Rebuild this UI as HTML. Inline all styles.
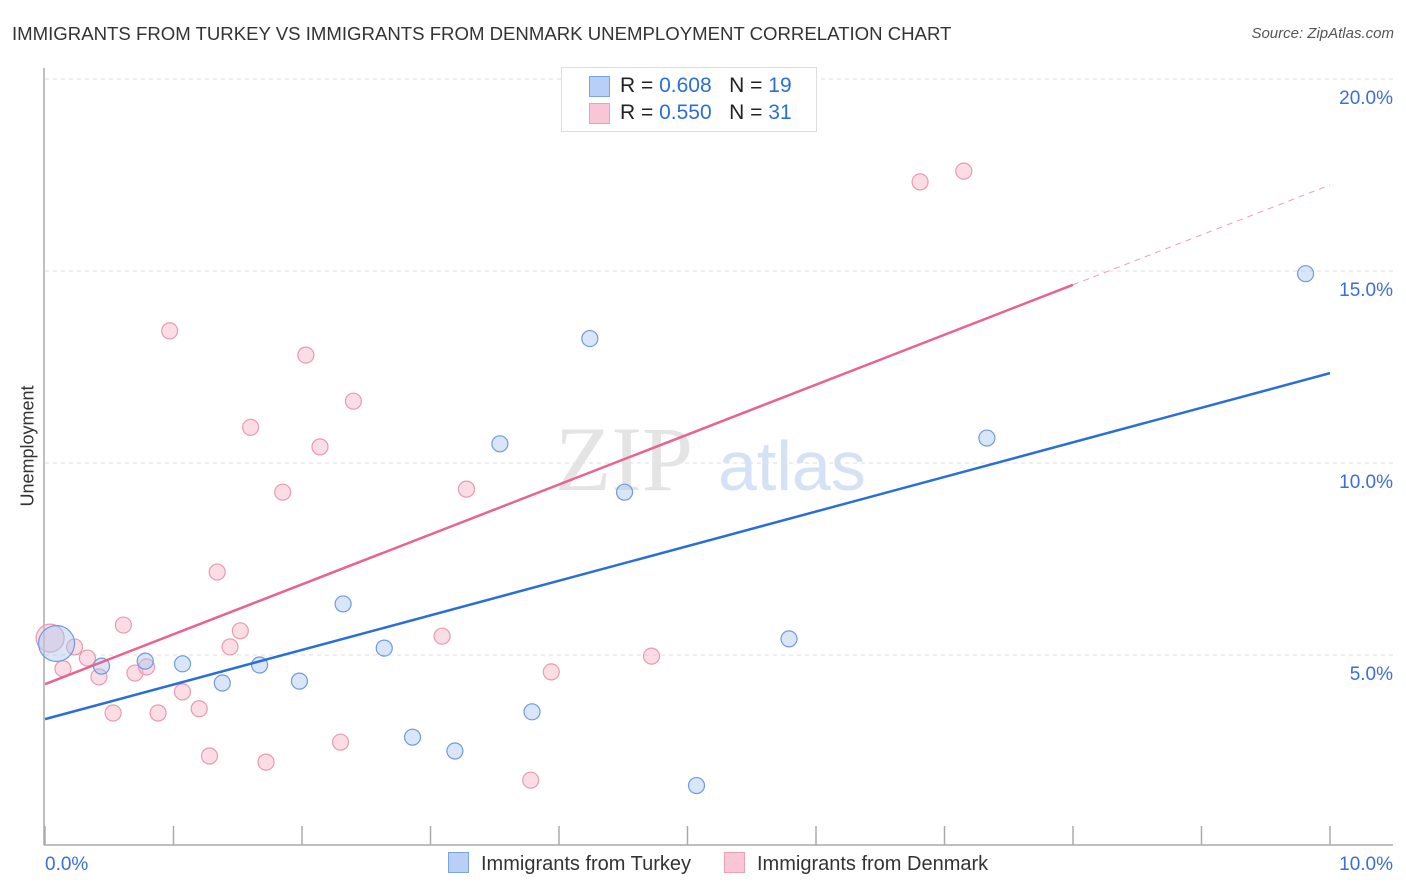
<!DOCTYPE html>
<html><head><meta charset="utf-8">
<style>
body{margin:0;background:#fff;font-family:"Liberation Sans",sans-serif;}
#wrap{position:relative;width:1406px;height:892px;overflow:hidden;}
.t{position:absolute;white-space:nowrap;}
</style></head><body>
<div id="wrap">
<div class="t" style="left:12px;top:23px;font-size:18.6px;color:#333;">IMMIGRANTS FROM TURKEY VS IMMIGRANTS FROM DENMARK UNEMPLOYMENT CORRELATION CHART</div>
<div class="t" style="right:12px;top:25px;font-size:15px;color:#555;font-style:italic;">Source: ZipAtlas.com</div>
<div class="t" style="left:-22px;top:446px;font-size:18px;color:#333;transform:rotate(-90deg);transform-origin:center;width:100px;text-align:center;">Unemployment</div>
<svg id="svg" width="1406" height="892" style="position:absolute;left:0;top:0"></svg>
</div>
<script>
const turkeyX=[0.09,0.44,0.78,1.07,1.38,1.67,1.98,2.32,2.64,2.86,3.19,3.54,3.79,4.24,4.51,5.07,5.79,7.33,9.81];
const turkeyY=[5.3,4.71,4.84,4.77,4.27,4.74,4.32,6.33,5.18,2.86,2.5,10.5,3.52,13.24,9.24,1.6,5.42,10.65,14.93];
const denmarkX=[0.04,0.14,0.23,0.33,0.42,0.53,0.61,0.7,0.79,0.88,0.97,1.07,1.2,1.28,1.34,1.44,1.52,1.6,1.72,1.85,2.03,2.14,2.3,2.4,3.09,3.28,3.78,3.94,4.72,6.81,7.15];
const denmarkY=[5.44,4.64,5.21,4.92,4.43,3.49,5.78,4.53,4.69,3.49,13.44,4.04,3.6,2.37,7.16,5.21,5.63,10.93,2.21,9.24,12.81,10.42,2.73,11.61,5.49,9.32,1.74,4.56,4.97,17.32,17.6];
const denmarkR=[14,8,8,8,8,8,8,8,8,8,8,8,8,8,8,8,8,8,8,8,8,8,8,8,8,8,8,8,8,8,8];
const turkeyR=[18,8,8,8,8,8,8,8,8,8,8,8,8,8,8,8,8,8,8];
const yTicks=[5,10,15,20];
const yTickLabels=["5.0%","10.0%","15.0%","20.0%"];
const xTicks=[0,1,2,3,4,5,6,7,8,9,10];
const turkeyTrend=[3.33,12.34];
const denmarkTrend=[4.24,17.24];
const denmarkSolidEnd=8.0;

const X0=45,X1=1330,Y0=847,PERPCT=38.4;
const sx=v=>X0+(X1-X0)*v/10;
const sy=v=>Y0-v*PERPCT;
const svg=document.getElementById('svg');
const NS='http://www.w3.org/2000/svg';
function mk(tag,attrs){const e=document.createElementNS(NS,tag);for(const k in attrs)e.setAttribute(k,attrs[k]);svg.appendChild(e);return e;}

yTicks.forEach((v,i)=>{
 const g=mk('line',{x1:X0,x2:1393,y1:sy(v),y2:sy(v),stroke:'#ddd','stroke-dasharray':'4,4'});
 
 
 const t=mk('text',{x:1393,y:sy(v)+25,'text-anchor':'end','font-size':19,fill:'#3a6fd8'});
 t.textContent=yTickLabels[i];
 
 
});
let ax=mk('line',{x1:44,x2:44,y1:68,y2:845,stroke:'#aaa','stroke-width':1.5});


ax=mk('line',{x1:44,x2:1393,y1:845,y2:845,stroke:'#aaa','stroke-width':1.5});


xTicks.forEach(v=>{
 const l=mk('line',{x1:sx(v),x2:sx(v),y1:826,y2:845,stroke:'#aaa','stroke-width':1.5});
 
 
});
let tx=mk('text',{x:45,y:870,'font-size':19,fill:'#3a6fd8'});tx.textContent='0.0%';


tx=mk('text',{x:1393,y:870,'font-size':19,fill:'#3a6fd8','text-anchor':'end'});tx.textContent='10.0%';



let w=mk('text',{x:555,y:490,'font-size':92,fill:'#e4e4e4','font-family':'Liberation Serif,serif'});w.textContent='ZIP';


w=mk('text',{x:718,y:490,'font-size':70,fill:'#d5e2f5'});w.textContent='atlas';



function dots(xs,ys,rs,fill,stroke,name){
 xs.forEach((x,i)=>{
  const c=mk('circle',{cx:sx(x),cy:sy(ys[i]),r:rs[i],fill:fill,stroke:stroke,'stroke-width':1.2});
  
  
 });
}
dots(denmarkX,denmarkY,denmarkR,'rgba(248,180,200,0.45)','#e89ab2','denmark-point');
dots(turkeyX,turkeyY,turkeyR,'rgba(170,200,240,0.45)','#6f9ae0','turkey-point');

let l=mk('line',{x1:sx(0),y1:sy(turkeyTrend[0]),x2:sx(10),y2:sy(turkeyTrend[1]),stroke:'#2a6fd8','stroke-width':2.5});


const dy=v=>denmarkTrend[0]+(denmarkTrend[1]-denmarkTrend[0])*v/10;
l=mk('line',{x1:sx(0),y1:sy(dy(0)),x2:sx(denmarkSolidEnd),y2:sy(dy(denmarkSolidEnd)),stroke:'#e8648e','stroke-width':2.5});


l=mk('line',{x1:sx(denmarkSolidEnd),y1:sy(dy(denmarkSolidEnd)),x2:sx(10),y2:sy(dy(10)),stroke:'#e8a0b8','stroke-width':1,'stroke-dasharray':'6,5'});


</script>
<div class="t" style="left:561px;top:67px;width:254px;height:63px;border:1px solid #ddd;background:#fff;font-size:21px;color:#222;">
 <div style="position:absolute;left:27px;top:8px;width:19px;height:19px;background:#b8d0f5;border:1px solid #7da3e3;"></div>
 <div style="position:absolute;left:58px;top:6px;">R = <span style="color:#2a6fd8">0.608</span>&nbsp;&nbsp;&nbsp;N = <span style="color:#2a6fd8">19</span></div>
 <div style="position:absolute;left:27px;top:35px;width:19px;height:19px;background:#f9c6d6;border:1px solid #eda0b8;"></div>
 <div style="position:absolute;left:58px;top:33px;">R = <span style="color:#2a6fd8">0.550</span>&nbsp;&nbsp;&nbsp;N = <span style="color:#2a6fd8">31</span></div>
</div>
<div class="t" style="left:448px;top:852px;font-size:20px;color:#333;"><span style="display:inline-block;width:19px;height:19px;background:#b8d0f5;border:1px solid #7da3e3;vertical-align:-3px;margin-right:12px;"></span>Immigrants from Turkey</div>
<div class="t" style="left:724px;top:852px;font-size:20px;color:#333;"><span style="display:inline-block;width:19px;height:19px;background:#f9c6d6;border:1px solid #eda0b8;vertical-align:-3px;margin-right:12px;"></span>Immigrants from Denmark</div>
</body></html>
